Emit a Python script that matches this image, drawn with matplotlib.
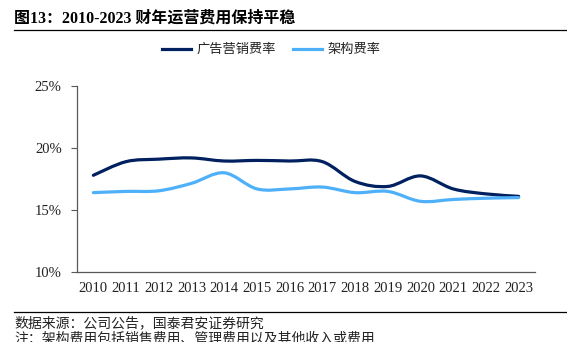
import numpy as np
import matplotlib.pyplot as plt
from matplotlib.path import Path
from matplotlib.patches import PathPatch

plt.rcParams['font.family'] = ['Liberation Serif', 'Noto Sans CJK SC', 'DejaVu Sans']

years = ['2010', '2011', '2012', '2013', '2014', '2015', '2016',
         '2017', '2018', '2019', '2020', '2021', '2022', '2023']
ad_rate = [17.8, 18.9, 19.1, 19.2, 18.95, 19.0, 18.95,
           18.9, 17.3, 16.9, 17.75, 16.7, 16.3, 16.1]
struct_rate = [16.4, 16.5, 16.55, 17.15, 18.0, 16.7, 16.7,
               16.85, 16.4, 16.5, 15.7, 15.85, 15.95, 16.0]
yticks = [10, 15, 20, 25]

dark = '#002060'
light = '#4FB0FA'


def smooth_path(x, y):
    # Catmull-Rom style bezier, like Excel's smoothed line
    x = np.asarray(x, float); y = np.asarray(y, float)
    verts = [(x[0], y[0])]
    codes = [Path.MOVETO]
    n = len(x)
    for i in range(n - 1):
        p0 = (x[max(i - 1, 0)], y[max(i - 1, 0)])
        p1 = (x[i], y[i]); p2 = (x[i + 1], y[i + 1])
        p3 = (x[min(i + 2, n - 1)], y[min(i + 2, n - 1)])
        c1 = (p1[0] + (p2[0] - p0[0]) / 6, p1[1] + (p2[1] - p0[1]) / 6)
        c2 = (p2[0] - (p3[0] - p1[0]) / 6, p2[1] - (p3[1] - p1[1]) / 6)
        verts += [c1, c2, p2]
        codes += [Path.CURVE4] * 3
    return Path(verts, codes)


fig = plt.figure(figsize=(5.67, 3.42), dpi=100)
ax = fig.add_axes([77 / 567, 1 - 272 / 342, (535 - 77) / 567, (272 - 86) / 342])

xs = np.arange(len(years))
for vals, col, lab in [(ad_rate, dark, '广告营销费率'), (struct_rate, light, '架构费率')]:
    ax.add_patch(PathPatch(smooth_path(xs, vals), facecolor='none',
                           edgecolor=col, lw=2.3, capstyle='round'))
    ax.plot([], [], color=col, lw=2.3, label=lab)

ax.set_xlim(-0.5, len(years) - 0.5)
ax.set_ylim(10, 25)
ax.set_xticks(xs)
ax.set_xticklabels(years, fontsize=10.5, color='#222222')
ax.set_yticks(yticks)
ax.set_yticklabels([f'{v}%' for v in yticks], fontsize=10.5, color='#222222')
ax.tick_params(axis='x', length=0, pad=7)
ax.tick_params(axis='y', length=4, width=0.8, color='#595959', pad=7)
for s in ['top', 'right']:
    ax.spines[s].set_visible(False)
for s in ['left', 'bottom']:
    ax.spines[s].set_color('#595959')
    ax.spines[s].set_linewidth(0.9)

leg = fig.legend(loc='center', bbox_to_anchor=(271 / 567, 1 - 50 / 342), ncol=2,
                 frameon=False, fontsize=9.5, handlelength=2.2, columnspacing=1.3,
                 handletextpad=0.4)
for t in leg.get_texts():
    t.set_color('#222222')

fig.text(14 / 567, 1 - 19 / 342, '图13：2010-2023 财年运营费用保持平稳', fontsize=11.5,
         fontweight='bold', va='center', ha='left')
fig.add_artist(plt.Line2D([14 / 567, 1], [1 - 30 / 342] * 2, color='black', lw=0.9))
fig.add_artist(plt.Line2D([14 / 567, 1], [1 - 312 / 342] * 2, color='black', lw=0.9))
fig.text(14 / 567, 1 - 323 / 342, '数据来源：公司公告，国泰君安证券研究', fontsize=10,
         va='center', ha='left', family=['Noto Sans CJK SC'], color='#222222')
fig.text(14 / 567, 1 - 339 / 342, '注：架构费用包括销售费用、管理费用以及其他收入或费用',
         fontsize=10, va='center', ha='left', family=['Noto Sans CJK SC'], color='#222222')

fig.savefig('out.png', dpi=100)
